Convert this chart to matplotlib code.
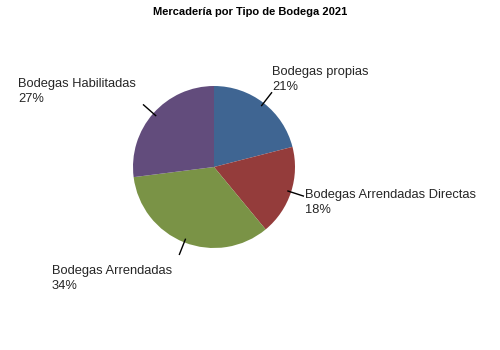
import numpy as np
import matplotlib.pyplot as plt

plt.rcParams['font.family'] = ['Liberation Sans', 'DejaVu Sans']

# data
categories = ["Bodegas propias", "Bodegas Arrendadas Directas",
              "Bodegas Arrendadas", "Bodegas Habilitadas"]
shares = [21, 18, 34, 27]
colors = ["#3F6592", "#943C3B", "#7A9346", "#624C7C"]

W, H = 500, 350
cx, cy, r = 214, 167, 81

# label anchors (image pixels, top-left of text)
label_pos = [(272, 66), (305, 189), (52, 265), (18, 78)]

fig = plt.figure(figsize=(5, 3.5), dpi=100)
ax = fig.add_axes([0, 0, 1, 1])

wedges, _ = ax.pie(shares, colors=colors, startangle=90, counterclock=False,
                   center=(cx, H - cy), radius=r, frame=True,
                   wedgeprops=dict(linewidth=0))
ax.set_xlim(0, W)
ax.set_ylim(0, H)
ax.set_aspect('equal')
ax.axis('off')

for w, name, v, (tx, ty) in zip(wedges, categories, shares, label_pos):
    mid = np.deg2rad((w.theta1 + w.theta2) / 2)
    x0 = cx + 0.96 * r * np.cos(mid)
    y0 = H - cy + 0.96 * r * np.sin(mid)
    x1 = cx + 1.16 * r * np.cos(mid)
    y1 = H - cy + 1.16 * r * np.sin(mid)
    ax.plot([x0, x1], [y0, y1], color='black', lw=1)
    ax.text(tx, H - ty, f"{name}\n{v}%", ha='left', va='top',
            fontsize=9.3, color='#262626', linespacing=1.3)

ax.text(250, H - 12, "Mercadería por Tipo de Bodega 2021", ha='center',
        va='center', fontsize=8, fontweight='bold')

fig.savefig("out.png", dpi=100)
